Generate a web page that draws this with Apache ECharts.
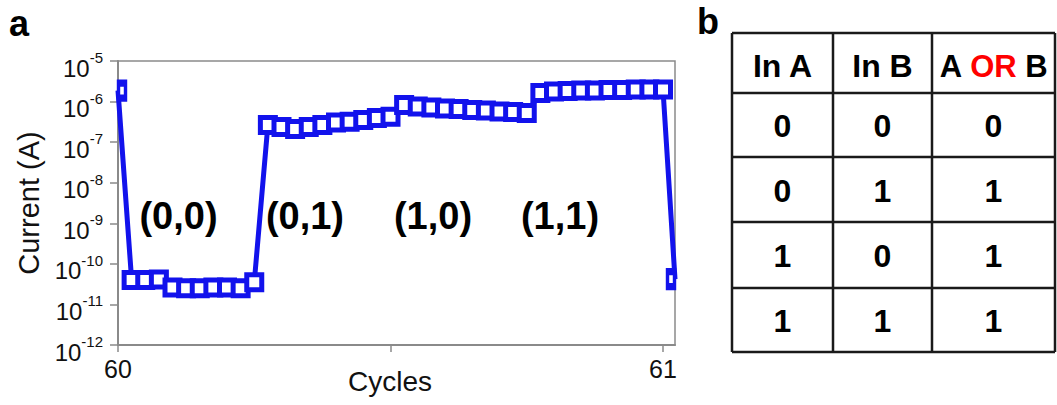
<!DOCTYPE html>
<html><head><meta charset="utf-8">
<script src="https://cdn.jsdelivr.net/npm/echarts@6.0.0/dist/echarts.min.js"></script>
<style>html,body{margin:0;padding:0;background:#fff}#c{width:1057px;height:405px}</style>
</head><body><div id="c"></div>
<script>
// ---- data ----
const cycles = [60.000, 60.025, 60.050, 60.075, 60.100, 60.125, 60.150, 60.175, 60.200, 60.225,
  60.250, 60.275, 60.300, 60.325, 60.350, 60.375, 60.400, 60.425, 60.450, 60.475,
  60.500, 60.525, 60.550, 60.575, 60.600, 60.625, 60.650, 60.675, 60.700, 60.725,
  60.750, 60.775, 60.800, 60.825, 60.850, 60.875, 60.900, 60.925, 60.950, 60.975,
  61.000, 61.022];
const current = [1.87e-6,
  4.0e-11, 4.0e-11, 4.1e-11, 2.6e-11, 2.5e-11, 2.5e-11, 2.6e-11, 2.6e-11, 2.5e-11, 3.5e-11,
  2.64e-7, 2.36e-7, 2.11e-7, 2.36e-7, 2.64e-7, 3.05e-7, 3.19e-7, 3.52e-7, 3.94e-7, 4.24e-7,
  8.2e-7, 7.6e-7, 7.15e-7, 6.75e-7, 6.56e-7, 6.2e-7, 6.0e-7, 5.7e-7, 5.5e-7, 5.2e-7,
  1.63e-6, 1.77e-6, 1.82e-6, 1.88e-6, 1.88e-6, 1.93e-6, 1.93e-6, 1.98e-6, 1.98e-6, 1.98e-6,
  4.2e-11];
const stateLabels = ['(0,0)', '(0,1)', '(1,0)', '(1,1)'];
const stateCycles = [60.111, 60.343, 60.578, 60.811];
const stateCurrent = [1.5e-9, 1.5e-9, 1.5e-9, 1.5e-9];
const yTicks = [1e-12, 1e-11, 1e-10, 1e-9, 1e-8, 1e-7, 1e-6, 1e-5];
const xTicks = [60, 60.5, 61];
const xTickLabels = [60, 61];
const tableHeaders = ['In A', 'In B', 'A OR B'];
const inA = [0, 0, 1, 1];
const inB = [0, 1, 0, 1];
const outOR = [0, 1, 1, 1];

// ---- styling / layout ----
const FONT = '"Liberation Sans", Arial, Helvetica, sans-serif';
const BLUE = '#1212EC';
const AXIS = '#8a8a8a';
const colEdges = [732, 833, 932, 1055];
const rowEdges = [33, 93, 157, 222, 288, 352];

const seriesData = cycles.map((c, i) => {
  const item = { value: [c, current[i]] };
  if (i === 0) { item.symbolSize = [7, 15]; item.symbolOffset = [4, 0]; }
  if (i === cycles.length - 1) { item.symbolSize = [7, 15]; item.symbolOffset = [-4, 0]; }
  return item;
});
const stateData = stateLabels.map((n, i) => ({ name: n, value: [stateCycles[i], stateCurrent[i]] }));

// table graphic
const g = [];
const lineStyle = { stroke: '#1a1a1a', lineWidth: 2.5 };
colEdges.forEach(x => g.push({ type: 'line', shape: { x1: x, y1: rowEdges[0], x2: x, y2: rowEdges[rowEdges.length - 1] }, style: lineStyle }));
rowEdges.forEach(y => g.push({ type: 'line', shape: { x1: colEdges[0], y1: y, x2: colEdges[colEdges.length - 1], y2: y }, style: lineStyle }));
const colCenter = j => (colEdges[j] + colEdges[j + 1]) / 2;
const rowCenter = r => (rowEdges[r] + rowEdges[r + 1]) / 2;
function cellText(txt, x, y, rich) {
  const st = { text: txt, x: x, y: y, font: 'bold 32px ' + FONT, fill: '#000',
    align: 'center', verticalAlign: 'middle', textAlign: 'center', textVerticalAlign: 'middle' };
  if (rich) st.rich = rich;
  return { type: 'text', style: st };
}
tableHeaders.forEach((h, j) => {
  if (h.indexOf(' OR ') >= 0) {
    const parts = h.split(' OR ');
    g.push(cellText('{k|' + parts[0] + ' }{r|OR}{k| ' + parts[1] + '}', colCenter(j), rowCenter(0) + 3,
      { k: { fill: '#000', color: '#000', font: 'bold 31px ' + FONT },
        r: { fill: '#ff0000', color: '#ff0000', font: 'bold 31px ' + FONT } }));
  } else {
    g.push(cellText(h, colCenter(j), rowCenter(0) + 3));
  }
});
[inA, inB, outOR].forEach((col, j) => {
  col.forEach((v, r) => g.push(cellText(String(v), colCenter(j), rowCenter(r + 1) + 1)));
});
g.push({ type: 'text', style: { text: 'a', x: 9, y: 23, font: 'bold 36px ' + FONT, fill: '#000',
  align: 'left', verticalAlign: 'middle', textAlign: 'left', textVerticalAlign: 'middle' } });
g.push({ type: 'text', style: { text: 'b', x: 697, y: 21, font: 'bold 36px ' + FONT, fill: '#000',
  align: 'left', verticalAlign: 'middle', textAlign: 'left', textVerticalAlign: 'middle' } });

const chart = echarts.init(document.getElementById('c'), null, { renderer: 'svg' });
chart.setOption({
  animation: false,
  backgroundColor: '#fff',
  textStyle: { fontFamily: FONT },
  grid: { left: 118, right: 382, top: 61, bottom: 60, show: true, borderColor: AXIS, borderWidth: 1.5,
    containLabel: false, outerBoundsMode: 'none' },
  xAxis: {
    type: 'value', min: 60, max: 61.022, interval: 0.5,
    name: 'Cycles', nameLocation: 'middle', nameGap: 22, nameMoveOverlap: false,
    nameTextStyle: { fontSize: 28, color: '#111', fontFamily: FONT, padding: [0, 13, 0, 0] },
    axisLine: { show: true, lineStyle: { color: AXIS, width: 2 } },
    axisTick: { show: true, length: 7, lineStyle: { color: AXIS, width: 1.5 }, customValues: xTicks },
    axisLabel: { show: true, fontSize: 25, color: '#111', margin: 11, fontFamily: FONT, customValues: xTickLabels,
      formatter: v => String(Math.round(v)) },
    splitLine: { show: false }
  },
  yAxis: {
    type: 'log', logBase: 10, min: 1e-12, max: 1e-5, splitNumber: 7,
    name: 'Current (A)', nameLocation: 'middle', nameGap: 72, nameRotate: 90,
    nameTextStyle: { fontSize: 29, color: '#111', fontFamily: FONT },
    axisLine: { show: true, lineStyle: { color: AXIS, width: 2 } },
    axisTick: { show: true, length: 8, lineStyle: { color: AXIS, width: 1.5 }, customValues: yTicks },
    axisLabel: {
      show: true, margin: 15, customValues: yTicks, padding: [8, 0, 0, 0],
      formatter: v => '{b|10}{s|' + Math.round(Math.log10(v)) + '}',
      rich: {
        b: { fontSize: 24, lineHeight: 30, verticalAlign: 'bottom', color: '#111', fontFamily: FONT },
        s: { fontSize: 15, lineHeight: 15, verticalAlign: 'top', color: '#111', fontFamily: FONT }
      }
    },
    splitLine: { show: false }
  },
  series: [
    {
      type: 'line', data: seriesData, clip: false, z: 3,
      symbol: 'rect', symbolSize: 15,
      lineStyle: { color: BLUE, width: 5 },
      itemStyle: { color: '#fff', borderColor: BLUE, borderWidth: 5 },
      emphasis: { disabled: true }
    },
    {
      type: 'scatter', data: stateData, symbolSize: 0, silent: true, z: 4,
      itemStyle: { color: '#000' },
      emphasis: { disabled: true },
      label: { show: true, position: 'inside', formatter: '{b}', fontSize: 38, fontWeight: 'bold',
        color: '#000', opacity: 1, textBorderWidth: 0, fontFamily: FONT }
    }
  ],
  graphic: { elements: g }
});
</script>
</body></html>
